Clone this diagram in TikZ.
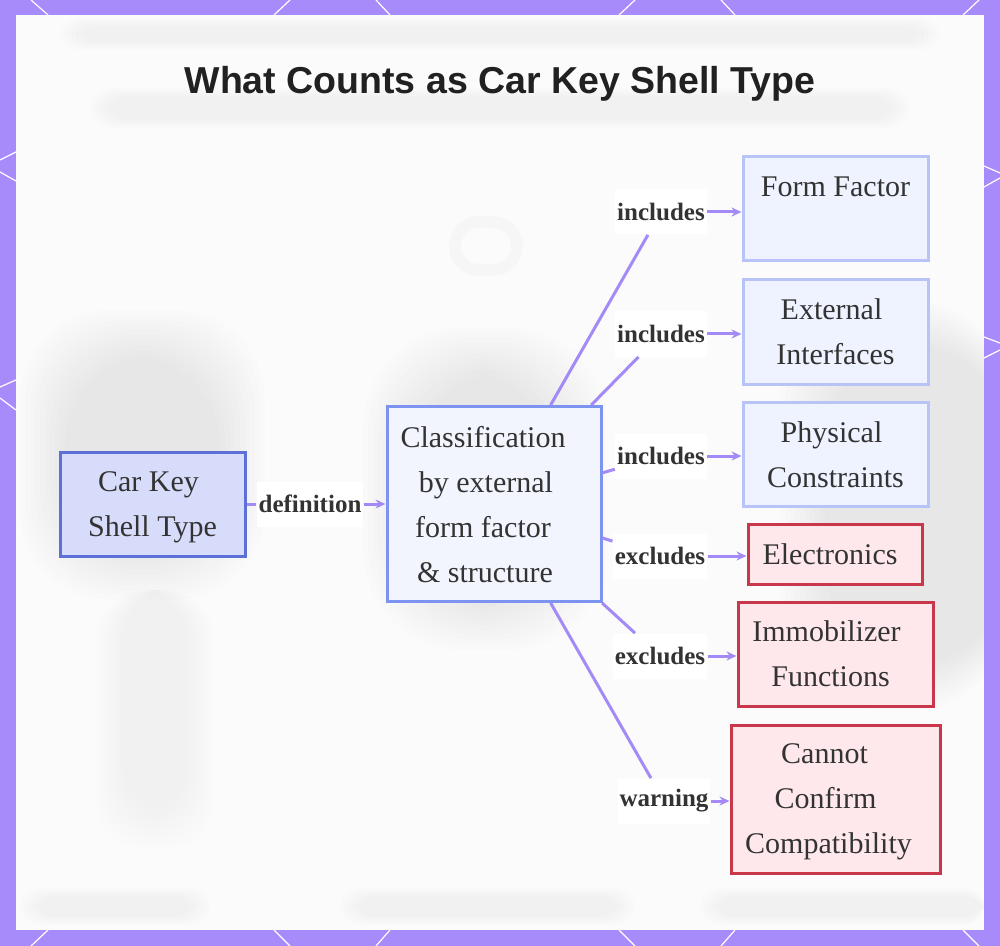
\documentclass[tikz,border=0pt]{standalone}
\usepackage{fontspec}
\setmainfont{Liberation Serif}
\newfontfamily\titlefont{Liberation Sans}
\usetikzlibrary{arrows.meta}

\definecolor{framepurple}{RGB}{167,139,250}
\definecolor{linkpurple}{RGB}{164,138,246}
\definecolor{inkgray}{RGB}{51,51,51}
\definecolor{panelwhite}{RGB}{251,251,251}
\definecolor{rootfill}{RGB}{216,220,251}
\definecolor{rootline}{RGB}{92,112,216}
\definecolor{midfill}{RGB}{242,244,254}
\definecolor{midline}{RGB}{124,148,240}
\definecolor{infill}{RGB}{239,242,255}
\definecolor{inline}{RGB}{184,196,248}
\definecolor{exfill}{RGB}{255,232,236}
\definecolor{exline}{RGB}{200,55,74}

% invisible trailing strip that nudges a centred line to the left
\newcommand{\nudge}[1]{\rule{#1pt}{0pt}}

\begin{document}
\begin{tikzpicture}[
  x=0.5pt, y=-0.5pt,
  box/.style={draw, line width=1.5pt, inner sep=0pt, align=center, text=inkgray,
    text depth=0pt, font=\fontsize{15}{22.5}\selectfont},
  rootbox/.style={box, fill=rootfill, draw=rootline, minimum width=92.5pt, minimum height=52pt},
  midbox/.style={box, fill=midfill, draw=midline, minimum width=107pt, minimum height=97.5pt},
  inbox/.style={box, fill=infill, draw=inline, minimum width=92.5pt, minimum height=52pt},
  exbox/.style={box, fill=exfill, draw=exline},
  lab/.style={fill=white, text=inkgray, inner xsep=1pt, inner ysep=0pt, minimum height=22.5pt,
    font=\fontsize{12.5}{15}\selectfont\bfseries},
  link/.style={draw=linkpurple, line width=1.5pt},
  arr/.style={link, -{Stealth[length=5pt,width=4.5pt]}},
  haze/.style={black, opacity=0.009}
]
  \useasboundingbox (0,0) rectangle (1000,946);

  % frame and panel
  \fill[framepurple] (0,0) rectangle (1000,946);
  \foreach \a/\b in {31/48, 290/274, 376/390, 635/619, 721/735, 979/963}
    \draw[white, line width=0.6pt] (\a,0) -- (\b,15) (\b,930) -- (\a,946);
  \draw[white, line width=0.6pt] (16,152) -- (0,160) (16,181) -- (0,172)
    (16,380) -- (0,387) (16,410) -- (0,398)
    (984,166) -- (1000,173) (984,187) -- (1000,178)
    (984,337) -- (1000,343) (984,358) -- (1000,350);
  \fill[panelwhite] (16,15) rectangle (984,930);

  % faded key pictures behind
  \begin{scope}
    \clip (16,15) rectangle (984,930);
    \foreach \k in {0,...,9} {
      \fill[haze, rounded corners=45pt] (20+5*\k,310+5*\k) rectangle (265-5*\k,600-5*\k);
      \fill[black, opacity=0.005, rounded corners=25pt] (95+3*\k,590) rectangle (215-3*\k,850-4*\k);
      \fill[haze, rounded corners=50pt] (363+5*\k,327+5*\k) rectangle (607-5*\k,650-5*\k);
      \fill[haze, rounded corners=50pt] (780+5*\k,300+5*\k) rectangle (1010,710-5*\k);
    }
    \draw[black, opacity=0.018, line width=6pt, rounded corners=12pt] (455,222) rectangle (517,270);
    \foreach \k in {0,...,4} {
      \fill[black, opacity=0.006, rounded corners=10pt] (60+4*\k,18+2*\k) rectangle (940-4*\k,50-2*\k);
      \fill[black, opacity=0.006, rounded corners=10pt] (90+4*\k,88+2*\k) rectangle (910-4*\k,128-2*\k);
      \fill[black, opacity=0.008, rounded corners=10pt] (20+4*\k,888+2*\k) rectangle (210-4*\k,925-2*\k);
      \fill[black, opacity=0.008, rounded corners=10pt] (340+4*\k,888+2*\k) rectangle (635-4*\k,925-2*\k);
      \fill[black, opacity=0.008, rounded corners=10pt] (700+4*\k,888+2*\k) rectangle (984,925-2*\k);
    }
  \end{scope}

  % title
  \node[text=black!87, font=\titlefont\bfseries\fontsize{18.75}{22}\selectfont] (title) at (500,84)
    {What Counts as Car Key Shell Type};

  % nodes
  \node[rootbox] (car) at (152.5,504) {Car Key\nudge{4}\\Shell Type};
  \node[midbox] (cls) at (494,504)
    {Classification\nudge{11}\\by external\nudge{8}\\form factor\nudge{11}\\\& structure\nudge{9}};
  \node[inbox] (ff) at (835.5,209) {Form Factor\\\mbox{}};
  \node[inbox] (ext) at (835.5,332) {External\nudge{4}\\Interfaces};
  \node[inbox] (phy) at (835.5,454.5) {Physical\nudge{4}\\Constraints};
  \node[exbox, minimum width=87pt, minimum height=30pt] (ele) at (835,554) {Electronics\nudge{5}};
  \node[exbox, minimum width=97.5pt, minimum height=52pt] (imm) at (835.5,654)
    {Immobilizer\nudge{9}\\Functions\nudge{5}};
  \node[exbox, minimum width=104.5pt, minimum height=74pt] (cnc) at (835.5,799)
    {Cannot\nudge{11}\\Confirm\nudge{10}\\Compatibility\nudge{7}};

  % edge labels
  \node[lab] (ldef) at (310,504) {definition};
  \node[lab] (linc1) at (661,212) {includes};
  \node[lab] (linc2) at (661,334) {includes};
  \node[lab] (linc3) at (661,456) {includes};
  \node[lab] (lexc1) at (660,556) {excludes};
  \node[lab] (lexc2) at (660,656) {excludes};
  \node[lab] (lwarn) at (664,801) {warning};

  % connectors
  \draw[link] (car) -- (ldef);
  \draw[arr] (ldef) -- (ldef -| cls.west);
  \foreach \l/\t in {linc1/ff, linc2/ext, linc3/phy, lexc1/ele, lexc2/imm, lwarn/cnc} {
    \draw[link] (cls) -- (\l);
    \draw[arr] (\l) -- (\l -| \t.west);
  }
\end{tikzpicture}
\end{document}
